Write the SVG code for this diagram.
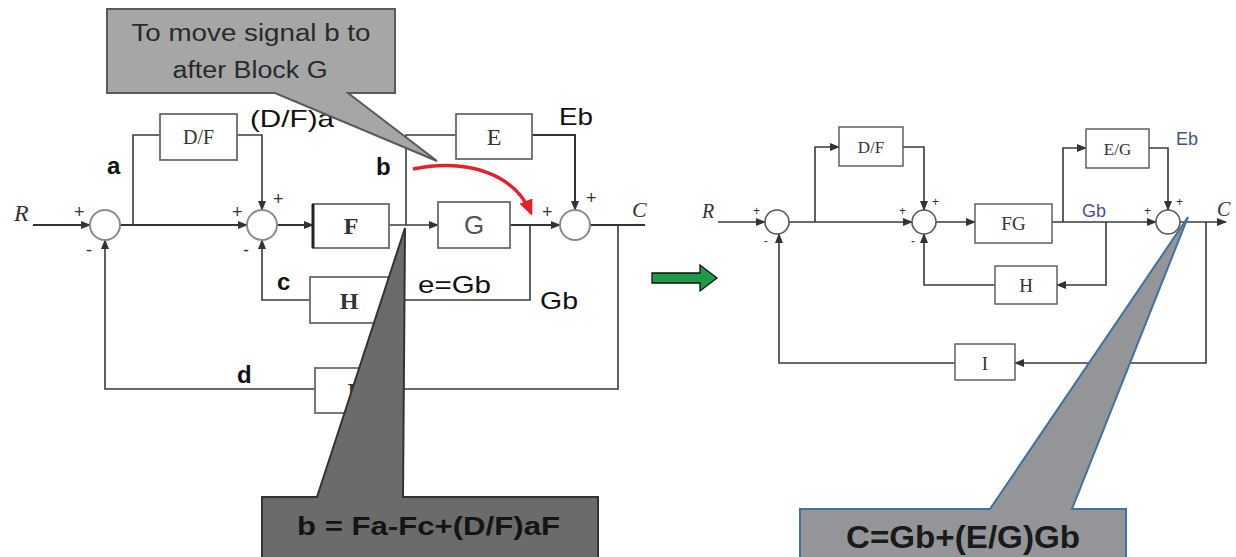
<svg xmlns="http://www.w3.org/2000/svg" width="1236" height="557" viewBox="0 0 1236 557">
<defs>
<style>
.ln{fill:none;stroke:#333;stroke-width:2}
.ln2{fill:none;stroke:#3a3a3a;stroke-width:1.6}
.bx{fill:#fff;stroke:#6a6a6a;stroke-width:1.8}
.bx2{fill:#fff;stroke:#555;stroke-width:1.4}
.sum{fill:#fff;stroke:#8a8a8a;stroke-width:2}
.sum2{fill:#fff;stroke:#555;stroke-width:1.6}
.serif{font-family:"Liberation Serif","Times New Roman",serif}
.sans{font-family:"Liberation Sans",Arial,sans-serif}
.lbl{font-family:"Liberation Sans",Arial,sans-serif;font-size:24px;fill:#111}
.bold{font-weight:bold}
.sgn{font-family:"Liberation Sans",Arial,sans-serif;font-size:18px;fill:#333}
.sgn2{font-family:"Liberation Sans",Arial,sans-serif;font-size:12px;fill:#333}
.blue{fill:#4b4f8f}
</style>
<marker id="ah" markerWidth="10" markerHeight="8" refX="9" refY="4" orient="auto" markerUnits="userSpaceOnUse"><path d="M0,0 L10,4 L0,8 Z" fill="#333"/></marker>
<marker id="ahr" markerWidth="16" markerHeight="14" refX="13" refY="7" orient="auto" markerUnits="userSpaceOnUse"><path d="M0,0 L16,7 L0,14 Z" fill="#e3212b"/></marker>
</defs>
<rect width="1236" height="557" fill="#fff"/>

<!-- LEFT DIAGRAM connectors -->
<g id="connectors-left">
<path class="ln" d="M33,225 H90" marker-end="url(#ah)"/>
<path class="ln" d="M120,225 H247" marker-end="url(#ah)"/>
<path class="ln2" d="M133,225 V135 H160"/>
<path class="ln2" d="M237,135 H262 V210" marker-end="url(#ah)"/>
<path class="ln" d="M277,225 H313" marker-end="url(#ah)"/>
<path class="ln2" d="M389,225 H438" marker-end="url(#ah)"/>
<path class="ln2" d="M406,225 V135 H456"/>
<path class="ln" d="M510,225 H560" marker-end="url(#ah)"/>
<path class="ln" d="M532,135 H575 V210" marker-end="url(#ah)"/>
<path class="ln" d="M590,225 H645"/>
<path class="ln2" d="M530,225 V300 H388"/>
<path class="ln2" d="M310,300 H262 V240" marker-end="url(#ah)"/>
<path class="ln2" d="M618,225 V389 H390"/>
<path class="ln2" d="M315,389 H105 V240" marker-end="url(#ah)"/>
</g>

<g id="sum1-left"><circle class="sum" cx="105" cy="225" r="15"/><text class="sgn" x="74" y="218">+</text><text class="sgn" x="86" y="256">-</text></g>
<g id="sum2-left"><circle class="sum" cx="262" cy="225" r="15"/><text class="sgn" x="232" y="218">+</text><text class="sgn" x="273" y="205">+</text><text class="sgn" x="243" y="256">-</text></g>
<g id="sum3-left"><circle class="sum" cx="575" cy="225" r="15"/><text class="sgn" x="542" y="218">+</text><text class="sgn" x="586" y="204">+</text></g>

<g id="block-DF-left"><rect class="bx" x="160" y="114" width="77" height="46"/><text class="serif" x="198.5" y="144" font-size="20" text-anchor="middle" fill="#333">D/F</text></g>
<g id="block-E-left"><rect class="bx" x="456" y="114" width="76" height="45"/><text class="serif" x="494" y="145" font-size="24" text-anchor="middle" fill="#333">E</text></g>
<g id="block-F-left"><rect class="bx" x="313" y="204" width="76" height="44"/><line x1="313" y1="204" x2="313" y2="248" stroke="#222" stroke-width="3"/><text class="serif bold" x="351" y="234" font-size="24" text-anchor="middle" fill="#333">F</text></g>
<g id="block-G-left"><rect class="bx" x="438" y="202" width="72" height="46"/><text class="sans" x="474" y="234" font-size="26" text-anchor="middle" fill="#555">G</text></g>
<g id="block-H-left"><rect class="bx" x="310" y="277" width="78" height="46"/><text class="serif bold" x="349" y="309" font-size="24" text-anchor="middle" fill="#333">H</text></g>
<g id="block-I-left"><rect class="bx" x="315" y="368" width="75" height="45"/><text class="serif bold" x="352" y="399" font-size="24" text-anchor="middle" fill="#333">I</text></g>

<g id="labels-left">
<text class="serif" x="14" y="221" font-size="24" font-style="italic" fill="#333">R</text>
<text class="serif" x="632" y="217" font-size="22" font-style="italic" fill="#333">C</text>
<text class="lbl bold" x="107" y="174" font-size="23">a</text>
<text class="lbl bold" x="376" y="175" font-size="23">b</text>
<text class="lbl bold" x="277" y="290" font-size="20">c</text>
<text class="lbl bold" x="237" y="383" font-size="24">d</text>
<text class="lbl" x="250" y="127" textLength="84" lengthAdjust="spacingAndGlyphs">(D/F)a</text>
<text class="lbl" x="559" y="125" textLength="34" lengthAdjust="spacingAndGlyphs">Eb</text>
<text class="lbl" x="418" y="293" textLength="73" lengthAdjust="spacingAndGlyphs">e=Gb</text>
<text class="lbl" x="540" y="309" textLength="38" lengthAdjust="spacingAndGlyphs">Gb</text>
</g>

<path id="red-arrow" d="M413,169 C470,158 515,175 531,213" fill="none" stroke="#e3212b" stroke-width="3.5" marker-end="url(#ahr)"/>

<g id="callout-move">
<path d="M107,9 H395 V93 H348 L437,161 L275,93 H107 Z" fill="#a6a6a6" stroke="#5a5a5a" stroke-width="2"/>
<text class="sans" x="251" y="41" font-size="23" text-anchor="middle" fill="#2a2a2a" textLength="239" lengthAdjust="spacingAndGlyphs">To move signal b to</text>
<text class="sans" x="250" y="78" font-size="23" text-anchor="middle" fill="#2a2a2a" textLength="155" lengthAdjust="spacingAndGlyphs">after Block G</text>
</g>

<g id="callout-b">
<path d="M262,497 H317 L405,228 L403,497 H598 V562 H262 Z" fill="#6b6b6b" stroke="#333" stroke-width="2"/>
<text class="sans bold" x="297" y="535" font-size="26" fill="#141414" textLength="263" lengthAdjust="spacingAndGlyphs">b = Fa-Fc+(D/F)aF</text>
</g>

<path id="green-arrow" d="M652,273 H700 V265 L717,278 L700,291 V283 H652 Z" fill="#1f9a48" stroke="#111" stroke-width="1.3"/>

<!-- RIGHT DIAGRAM -->
<g id="connectors-right">
<path class="ln2" d="M718,222 H765" marker-end="url(#ah)"/>
<path class="ln2" d="M789,222 H912" marker-end="url(#ah)"/>
<path class="ln2" d="M815,222 V147 H839" marker-end="url(#ah)"/>
<path class="ln2" d="M903,147 H924 V210" marker-end="url(#ah)"/>
<path class="ln2" d="M936,222 H975" marker-end="url(#ah)"/>
<path class="ln2" d="M1052,222 H1156" marker-end="url(#ah)"/>
<path class="ln2" d="M1063,222 V148 H1086" marker-end="url(#ah)"/>
<path class="ln2" d="M1149,148 H1168 V210" marker-end="url(#ah)"/>
<path class="ln2" d="M1180,222 H1226" marker-end="url(#ah)"/>
<path class="ln2" d="M1106,222 V285 H1057" marker-end="url(#ah)"/>
<path class="ln2" d="M995,285 H924 V234" marker-end="url(#ah)"/>
<path class="ln2" d="M1206,222 V363 H1015" marker-end="url(#ah)"/>
<path class="ln2" d="M955,363 H779 V234" marker-end="url(#ah)"/>
</g>

<g id="sum1-right"><circle class="sum2" cx="777" cy="222" r="12"/><text class="sgn2" x="753" y="215">+</text><text class="sgn2" x="764" y="245">-</text></g>
<g id="sum2-right"><circle class="sum2" cx="924" cy="222" r="12"/><text class="sgn2" x="899" y="215">+</text><text class="sgn2" x="932" y="206">+</text><text class="sgn2" x="911" y="245">-</text></g>
<g id="sum3-right"><circle class="sum2" cx="1168" cy="222" r="12"/><text class="sgn2" x="1144" y="215">+</text><text class="sgn2" x="1176" y="206">+</text></g>

<g id="block-DF-right"><rect class="bx2" x="839" y="127" width="64" height="39"/><text class="serif" x="871" y="153" font-size="17" text-anchor="middle" fill="#333">D/F</text></g>
<g id="block-FG-right"><rect class="bx2" x="975" y="204" width="77" height="39"/><text class="serif" x="1013.5" y="230" font-size="19" text-anchor="middle" fill="#333">FG</text></g>
<g id="block-EG-right"><rect class="bx2" x="1086" y="129" width="63" height="39"/><text class="serif" x="1117.5" y="155" font-size="17" text-anchor="middle" fill="#333">E/G</text></g>
<g id="block-H-right"><rect class="bx2" x="995" y="266" width="62" height="38"/><text class="serif" x="1026" y="292" font-size="19" text-anchor="middle" fill="#333">H</text></g>
<g id="block-I-right"><rect class="bx2" x="955" y="344" width="60" height="36"/><text class="serif" x="985" y="370" font-size="19" text-anchor="middle" fill="#333">I</text></g>

<g id="labels-right">
<text class="serif" x="702" y="218" font-size="20" font-style="italic" fill="#333">R</text>
<text class="serif" x="1217" y="216" font-size="20" font-style="italic" fill="#333">C</text>
<text class="sans blue" x="1176" y="145" font-size="18">Eb</text>
<text class="sans blue" x="1082" y="217" font-size="18">Gb</text>
</g>

<g id="callout-C">
<path d="M800,509 H990 L1188,217 L1072,509 H1126 V562 H800 Z" fill="#939598" stroke="#41719c" stroke-width="2"/>
<text class="sans bold" x="963" y="548" font-size="32" text-anchor="middle" fill="#1a1a1a" textLength="234" lengthAdjust="spacingAndGlyphs">C=Gb+(E/G)Gb</text>
</g>
</svg>
